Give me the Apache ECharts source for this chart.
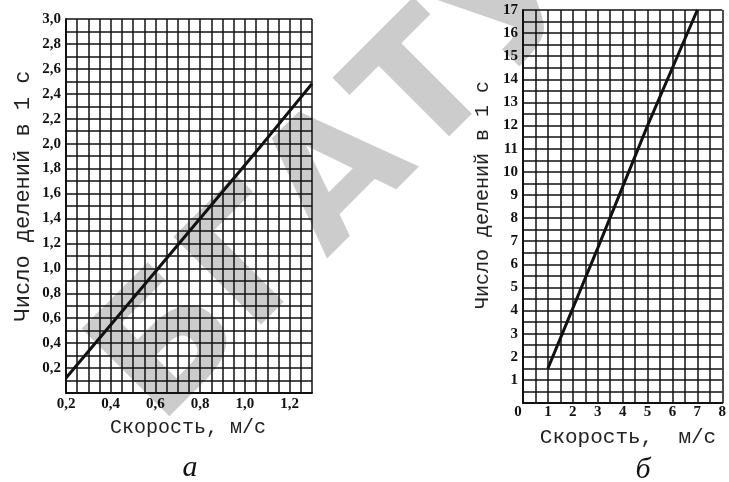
<!DOCTYPE html>
<html><head><meta charset="utf-8">
<script src="https://cdn.jsdelivr.net/npm/echarts@6/dist/echarts.min.js"></script>
<style>html,body{margin:0;padding:0;background:#fff}#c{width:729px;height:482px}</style>
</head><body><div id="c"></div>
<script>
// Chart a
const speedA = [0.2, 0.5, 1.08, 1.3];
const countA = [0.12, 0.76, 2.0, 2.48];
const xTicksA = [0.2, 0.4, 0.6, 0.8, 1.0, 1.2];
const yTicksA = [0.2,0.4,0.6,0.8,1.0,1.2,1.4,1.6,1.8,2.0,2.2,2.4,2.6,2.8,3.0];
// Chart б
const speedB = [1.0, 3.0, 5.0, 7.0];
const countB = [1.5, 6.7, 12.0, 17.0];
const xTicksB = [0,1,2,3,4,5,6,7,8];
const yTicksB = [1,2,3,4,5,6,7,8,9,10,11,12,13,14,15,16,17];

const yTitle = 'Число делений в 1 с';
const xTitleA = 'Скорость, м/с';
const xTitleB = 'Скорость,  м/с';
const capA = 'а', capB = 'б';
const mark = 'БГАТУ';

function fmt(list, dec){
  return function(v){
    for (const t of list) if (Math.abs(t - v) < 1e-6) {
      const s = dec ? t.toFixed(1).replace('.', ',') : String(t);
      return t === 0 ? '{z|' + s + '}' : s;
    }
    return '';
  };
}
const lab = {color:'#111', fontFamily:'Liberation Serif', fontWeight:'bold', fontSize:15,
  rich:{z:{padding:[0,10,0,0], color:'#111', fontFamily:'Liberation Serif', fontWeight:'bold', fontSize:15}}};
const gridLine = {show:true, lineStyle:{color:'#111', width:1.5}};
const axLine = {show:true, lineStyle:{color:'#111', width:2}};

const chart = echarts.init(document.getElementById('c'));
chart.setOption({
  backgroundColor:'#fff',
  animation:false,
  grid:[
    {left:66, top:19, width:246, height:374},
    {left:523, top:10, width:204, height:393}
  ],
  xAxis:[
    {type:'value', gridIndex:0, min:0.2, max:1.3, interval:0.05,
     axisLine:axLine, axisTick:{show:false}, splitLine:gridLine,
     axisLabel:Object.assign({margin:4, formatter:fmt(xTicksA,true), showMaxLabel:true}, lab)},
    {type:'value', gridIndex:1, min:0, max:8, interval:0.5,
     axisLine:axLine, axisTick:{show:false}, splitLine:gridLine,
     axisLabel:Object.assign({margin:2, formatter:fmt(xTicksB,false), showMinLabel:true, showMaxLabel:true}, lab)}
  ],
  yAxis:[
    {type:'value', gridIndex:0, min:0, max:3, interval:0.1,
     axisLine:axLine, axisTick:{show:false}, splitLine:gridLine,
     axisLabel:Object.assign({margin:5, formatter:fmt(yTicksA,true), showMaxLabel:true}, lab)},
    {type:'value', gridIndex:1, min:0, max:17, interval:0.5,
     axisLine:axLine, axisTick:{show:false}, splitLine:gridLine,
     axisLabel:Object.assign({margin:5, formatter:fmt(yTicksB,false), showMaxLabel:true}, lab)}
  ],
  series:[
    {type:'line', xAxisIndex:0, yAxisIndex:0, data:speedA.map((x,i)=>[x,countA[i]]),
     showSymbol:false, lineStyle:{color:'#111', width:3}, z:5},
    {type:'line', xAxisIndex:1, yAxisIndex:1, data:speedB.map((x,i)=>[x,countB[i]]),
     showSymbol:false, lineStyle:{color:'#111', width:3}, z:5}
  ],
  graphic:[
    {type:'text', x:345, y:178, rotation:Math.PI/4, z:-10, zlevel:0,
     style:{text:mark, fill:'#cccccc', font:'bold 170px "DejaVu Sans"', align:'center', verticalAlign:'middle'}},
    {type:'text', x:23, y:196, rotation:Math.PI/2,
     style:{text:yTitle, fill:'#222', font:'22px "Liberation Mono"', align:'center', verticalAlign:'middle'}},
    {type:'text', x:483, y:195, rotation:Math.PI/2,
     style:{text:yTitle, fill:'#222', font:'20px "Liberation Mono"', align:'center', verticalAlign:'middle'}},
    {type:'text', x:188, y:428,
     style:{text:xTitleA, fill:'#222', font:'20px "Liberation Mono"', align:'center', verticalAlign:'middle'}},
    {type:'text', x:628, y:437,
     style:{text:xTitleB, fill:'#222', font:'21px "Liberation Mono"', align:'center', verticalAlign:'middle'}},
    {type:'text', x:190, y:468,
     style:{text:capA, fill:'#111', font:'italic 30px "Liberation Serif"', align:'center', verticalAlign:'middle'}},
    {type:'text', x:643, y:470,
     style:{text:capB, fill:'#111', font:'italic 30px "Liberation Serif"', align:'center', verticalAlign:'middle'}}
  ]
});
</script></body></html>
